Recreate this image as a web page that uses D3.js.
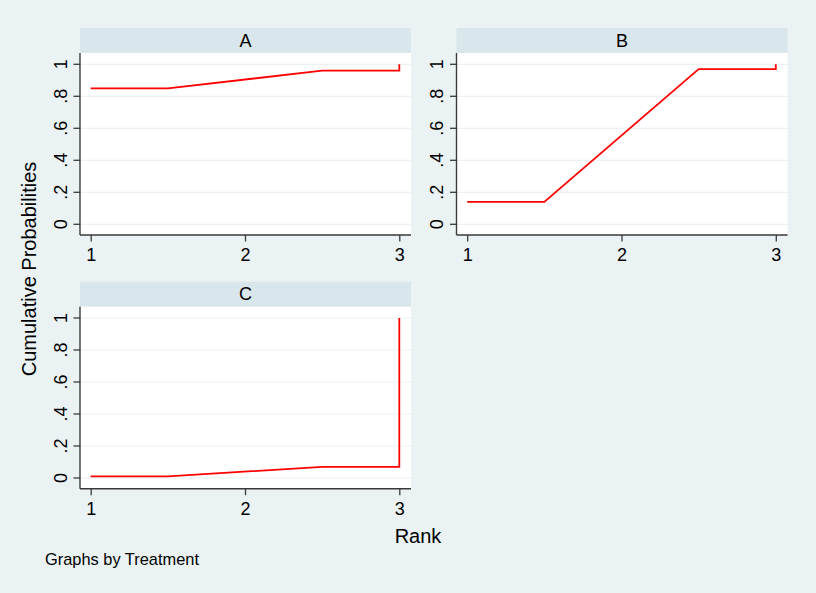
<!DOCTYPE html>
<html>
<head>
<meta charset="utf-8">
<script src="https://cdn.jsdelivr.net/npm/d3@7"></script>
<style>
  html, body { margin: 0; padding: 0; background: #EAF2F3; }
  svg { display: block; }
  text { font-family: "Liberation Sans", Arial, sans-serif; fill: #000; }
</style>
</head>
<body>
<svg id="chart" width="816" height="593"></svg>
<script>
// ---- data ----
const treatments = ["A", "B", "C"];
const rankPoints = [1, 1.5, 2.5, 3, 3];
const cumA = [0.85, 0.85, 0.96, 0.96, 1.0];
const cumB = [0.14, 0.14, 0.97, 0.97, 1.0];
const cumC = [0.01, 0.01, 0.07, 0.07, 1.0];
const xTicks = [1, 2, 3];
const yTicks = [0, 0.2, 0.4, 0.6, 0.8, 1];
const yTickLabels = ["0", ".2", ".4", ".6", ".8", "1"];
const xTitle = "Rank";
const yTitle = "Cumulative Probabilities";
const note = "Graphs by Treatment";

const series = [cumA, cumB, cumC];

// ---- layout ----
const svg = d3.select("#chart");
svg.append("rect").attr("width", 816).attr("height", 593).attr("fill", "#EAF2F3");

const panelW = 331, plotH = 182, stripH = 25;
const panels = [
  { left: 80,    top: 53 },
  { left: 456.5, top: 53 },
  { left: 80,    top: 306.7 }
];

treatments.forEach((t, i) => {
  const p = panels[i];
  const g = svg.append("g").attr("transform", `translate(${p.left},${p.top})`);

  const x = d3.scaleLinear().domain([1, 3]).range([10.7, 319.3]);
  const y = d3.scaleLinear().domain([0, 1]).range([171.3, 11.3]);

  // strip
  g.append("rect").attr("x", 0).attr("y", -stripH).attr("width", panelW).attr("height", stripH)
    .attr("fill", "#D9E6EB");
  g.append("text").attr("x", panelW / 2).attr("y", -6.3).attr("text-anchor", "middle")
    .attr("font-size", 18).text(t);

  // plot area
  g.append("rect").attr("x", 0).attr("y", 0).attr("width", panelW).attr("height", plotH)
    .attr("fill", "#FFFFFF");

  // gridlines
  g.append("g").selectAll("line").data(yTicks).join("line")
    .attr("x1", 0).attr("x2", panelW)
    .attr("y1", d => y(d)).attr("y2", d => y(d))
    .attr("stroke", "#EAF2F3").attr("stroke-width", 1.2);

  // line
  const pts = rankPoints.map((r, k) => [r, series[i][k]]);
  g.append("path").datum(pts)
    .attr("fill", "none").attr("stroke", "#FF0000").attr("stroke-width", 1.8)
    .attr("d", d3.line().x(d => x(d[0])).y(d => y(d[1])));

  // y axis
  const yAxis = d3.axisLeft(y).tickValues(yTicks)
    .tickFormat((d, k) => yTickLabels[k]).tickSize(6.5).tickPadding(6);
  const ya = g.append("g").call(yAxis);
  ya.select(".domain").attr("d", `M0,0V${plotH}`).attr("stroke", "#3a3a3a").attr("stroke-width", 1.4);
  ya.selectAll(".tick line").attr("stroke", "#3a3a3a").attr("stroke-width", 1.3);
  ya.selectAll(".tick text")
    .attr("font-size", 18)
    .attr("fill", "#000")
    .attr("text-anchor", "middle")
    .attr("dy", null)
    .each(function(d) {
      d3.select(this).attr("x", null).attr("y", null)
        .attr("transform", `translate(-13.5,${y(d)}) rotate(-90)`);
    });
  ya.selectAll(".tick").attr("transform", null);
  ya.selectAll(".tick line").attr("transform", d => `translate(0,${y(d)})`);

  // x axis
  const xAxis = d3.axisBottom(x).tickValues(xTicks).tickFormat(d3.format("d"))
    .tickSize(6.5).tickPadding(7);
  const xa = g.append("g").attr("transform", `translate(0,${plotH})`).call(xAxis);
  xa.select(".domain").attr("d", `M0,0H${panelW}`).attr("stroke", "#3a3a3a").attr("stroke-width", 1.4);
  xa.selectAll(".tick line").attr("stroke", "#3a3a3a").attr("stroke-width", 1.3);
  xa.selectAll(".tick text").attr("font-size", 18).attr("fill", "#000");
});

// titles
svg.append("text").attr("transform", "translate(36,269) rotate(-90)")
  .attr("text-anchor", "middle").attr("font-size", 20).text(yTitle);
svg.append("text").attr("x", 418).attr("y", 543).attr("text-anchor", "middle")
  .attr("font-size", 20).text(xTitle);
svg.append("text").attr("x", 45).attr("y", 565).attr("font-size", 16.4).text(note);
</script>
</body>
</html>
